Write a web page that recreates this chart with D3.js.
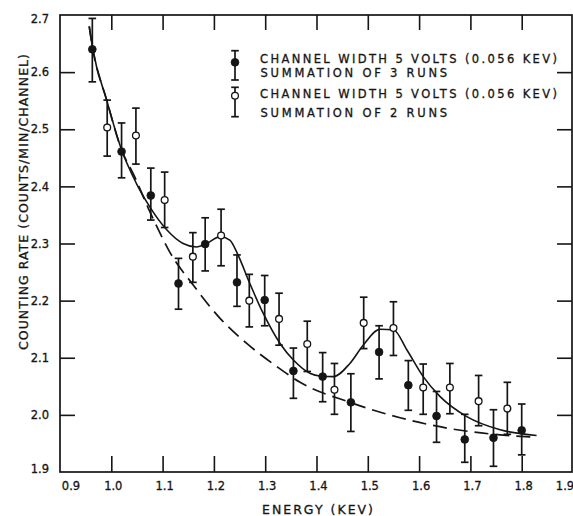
<!DOCTYPE html>
<html><head><meta charset="utf-8">
<script src="https://cdn.jsdelivr.net/npm/d3@7"></script>
<style>
body{margin:0;background:#fff}
svg{display:block}
text{font-family:"DejaVu Sans",sans-serif;fill:#151515;stroke:#151515;stroke-width:0.3}
</style>
</head><body>
<svg id="c" width="573" height="516"></svg>
<script>
// ---- data ----
const xTicks = [0.9,1.0,1.1,1.2,1.3,1.4,1.5,1.6,1.7,1.8,1.9];
const xTickLabels = ["0.9","1.0","1.1","1.2","1.3","1.4","1.5","1.6","1.7","1.8","1.9"];
const yTicks = [1.9,2.0,2.1,2.2,2.3,2.4,2.5,2.6,2.7];
const yTickLabels = ["1.9","2.0","2.1","2.2","2.3","2.4","2.5","2.6","2.7"];

// Series 1: filled circles, summation of 3 runs
const run3Energy = [0.963,1.020,1.077,1.131,1.183,1.245,1.299,1.355,1.412,1.467,1.522,1.579,1.634,1.689,1.745,1.800];
const run3Rate   = [2.640,2.461,2.384,2.230,2.299,2.232,2.201,2.077,2.067,2.022,2.110,2.052,1.998,1.957,1.960,1.973];
const run3Hi     = [2.694,2.511,2.432,2.274,2.345,2.280,2.244,2.117,2.109,2.072,2.156,2.095,2.041,2.001,2.009,2.019];
const run3Lo     = [2.583,2.415,2.341,2.185,2.252,2.190,2.156,2.029,2.023,1.971,2.063,2.008,1.952,1.917,1.910,1.930];

// Series 2: open circles, summation of 2 runs
const run2Energy = [0.992,1.048,1.104,1.159,1.214,1.269,1.327,1.382,1.435,1.492,1.550,1.608,1.660,1.716,1.772];
const run2Rate   = [2.503,2.489,2.376,2.277,2.314,2.200,2.168,2.124,2.044,2.161,2.152,2.048,2.048,2.024,2.011];
const run2Hi     = [2.551,2.537,2.425,2.319,2.360,2.246,2.213,2.164,2.090,2.206,2.198,2.089,2.090,2.069,2.057];
const run2Lo     = [2.453,2.439,2.328,2.232,2.261,2.154,2.122,2.076,2.001,2.116,2.104,2.001,2.002,1.981,1.966];

// Solid fitted curve
const fitEnergy = [0.957,0.963,0.991,1.020,1.049,1.075,1.108,1.140,1.166,1.186,1.212,1.231,1.246,1.270,1.296,1.329,1.355,1.387,1.407,1.433,1.465,1.491,1.524,1.550,1.576,1.608,1.641,1.693,1.758,1.829];
const fitRate   = [2.680,2.645,2.551,2.464,2.405,2.364,2.324,2.300,2.294,2.300,2.312,2.306,2.282,2.230,2.178,2.125,2.096,2.073,2.068,2.067,2.090,2.122,2.150,2.149,2.114,2.067,2.032,1.997,1.974,1.964];

// Dashed background curve
const bgEnergy = [0.957,0.963,0.991,1.020,1.045,1.072,1.095,1.114,1.160,1.212,1.264,1.322,1.368,1.465,1.563,1.660,1.758,1.823];
const bgRate   = [2.680,2.645,2.551,2.464,2.418,2.362,2.318,2.285,2.227,2.169,2.125,2.085,2.057,2.022,1.995,1.976,1.965,1.961];

const legendLines = [
  ["CHANNEL WIDTH 5 VOLTS (0.056 KEV)", "SUMMATION OF 3 RUNS"],
  ["CHANNEL WIDTH 5 VOLTS (0.056 KEV)", "SUMMATION OF 2 RUNS"]
];
const xTitle = "ENERGY (KEV)";
const yTitle = "COUNTING RATE (COUNTS/MIN/CHANNEL)";

// ---- drawing ----
const ink = "#151515";
const svg = d3.select("#c");
const L = 60, R = 573, T = 15, B = 472;
const x = d3.scaleLinear().domain([0.9,1.9]).range([L,R]);
const y = d3.scaleLinear().domain([1.9,2.7]).range([B,T]);

// frame
svg.append("rect").attr("x",L).attr("y",T).attr("width",R-1-L).attr("height",B-T)
  .attr("fill","none").attr("stroke",ink).attr("stroke-width",1.7);

// axes with inward ticks
const inner = xTicks.slice(1,-1);
const innerY = yTicks.slice(1,-1);
const gB = svg.append("g").attr("transform",`translate(0,${B})`)
  .call(d3.axisBottom(x).tickValues(inner).tickSize(-16).tickFormat(""));
const gT = svg.append("g").attr("transform",`translate(0,${T})`)
  .call(d3.axisTop(x).tickValues(inner).tickSize(-15).tickFormat(""));
const gL = svg.append("g").attr("transform",`translate(${L},0)`)
  .call(d3.axisLeft(y).tickValues(innerY).tickSize(-15).tickFormat(""));
const gR = svg.append("g").attr("transform",`translate(${R-1},0)`)
  .call(d3.axisRight(y).tickValues(innerY).tickSize(-15).tickFormat(""));
[gB,gT,gL,gR].forEach(g=>{
  g.select(".domain").remove();
  g.selectAll(".tick line").attr("stroke",ink).attr("stroke-width",1.6);
});

// tick labels
svg.append("g").selectAll("text").data(xTicks).join("text")
  .attr("x",(d,i)=> i===0 ? x(d)+11 : (i===xTicks.length-1 ? x(d)-8 : x(d)+2))
  .attr("y",490).attr("text-anchor","middle").attr("font-size",11.5)
  .text((d,i)=>xTickLabels[i]);
svg.append("g").selectAll("text").data(yTicks).join("text")
  .attr("x",49)
  .attr("y",(d,i)=> y(d) + 4.2 + (i===yTicks.length-1 ? 4 : 0) + (i===0 ? -3 : 0))
  .attr("text-anchor","end").attr("font-size",11.5)
  .text((d,i)=>yTickLabels[i]);

// axis titles
svg.append("text").attr("x",262).attr("y",514).attr("font-size",12.5)
  .attr("textLength",111).attr("lengthAdjust","spacing").text(xTitle);
svg.append("text").attr("transform","translate(28,350) rotate(-90)")
  .attr("font-size",12.5).attr("textLength",296).attr("lengthAdjust","spacing").text(yTitle);

// curves
const line = d3.line().x(d=>x(d[0])).y(d=>y(d[1])).curve(d3.curveMonotoneX);
svg.append("path").datum(bgEnergy.map((e,i)=>[e,bgRate[i]]))
  .attr("d",line).attr("fill","none").attr("stroke",ink).attr("stroke-width",1.7)
  .attr("stroke-dasharray","14,7");
svg.append("path").datum(fitEnergy.map((e,i)=>[e,fitRate[i]]))
  .attr("d",line).attr("fill","none").attr("stroke",ink).attr("stroke-width",1.6);

// error bars + points
function drawSeries(E, V, H, Lo, filled){
  const g = svg.append("g");
  const pts = E.map((e,i)=>({e, v:V[i], h:H[i], l:Lo[i]}));
  g.selectAll("line.bar").data(pts).join("line").attr("class","bar")
    .attr("x1",d=>x(d.e)).attr("x2",d=>x(d.e)).attr("y1",d=>y(d.h)).attr("y2",d=>y(d.l))
    .attr("stroke",ink).attr("stroke-width",1.7);
  ["h","l"].forEach(k=>{
    g.selectAll("line.cap"+k).data(pts).join("line").attr("class","cap"+k)
      .attr("x1",d=>x(d.e)-3.8).attr("x2",d=>x(d.e)+3.8).attr("y1",d=>y(d[k])).attr("y2",d=>y(d[k]))
      .attr("stroke",ink).attr("stroke-width",1.7);
  });
  g.selectAll("circle").data(pts).join("circle")
    .attr("cx",d=>x(d.e)).attr("cy",d=>y(d.v)).attr("r",filled?3.9:3.4)
    .attr("fill",filled?ink:"#fff").attr("stroke",ink).attr("stroke-width",filled?0.8:1.3);
}
drawSeries(run2Energy, run2Rate, run2Hi, run2Lo, false);
drawSeries(run3Energy, run3Rate, run3Hi, run3Lo, true);

// legend
const leg = [
  {cx:235, cy:62.3, top:50.7, bot:80, filled:true, ty:63.3},
  {cx:235, cy:95.7, top:87.3, bot:116.7, filled:false, ty:98.3}
];
leg.forEach((o,i)=>{
  const g = svg.append("g");
  g.append("line").attr("x1",o.cx).attr("x2",o.cx).attr("y1",o.top).attr("y2",o.bot).attr("stroke",ink).attr("stroke-width",1.7);
  [o.top,o.bot].forEach(v=>g.append("line").attr("x1",o.cx-3.8).attr("x2",o.cx+3.8).attr("y1",v).attr("y2",v).attr("stroke",ink).attr("stroke-width",1.7));
  g.append("circle").attr("cx",o.cx).attr("cy",o.cy).attr("r",o.filled?3.9:3.4)
    .attr("fill",o.filled?ink:"#fff").attr("stroke",ink).attr("stroke-width",o.filled?0.8:1.3);
  g.append("text").attr("x",260).attr("y",o.ty).attr("font-size",11.5)
    .attr("textLength",297).attr("lengthAdjust","spacing").text(legendLines[i][0]);
  g.append("text").attr("x",260.5).attr("y",o.ty+13.4+ (i===1?5:0)).attr("font-size",11.5)
    .attr("textLength",186.6).attr("lengthAdjust","spacing").text(legendLines[i][1]);
});
</script>
</body></html>
